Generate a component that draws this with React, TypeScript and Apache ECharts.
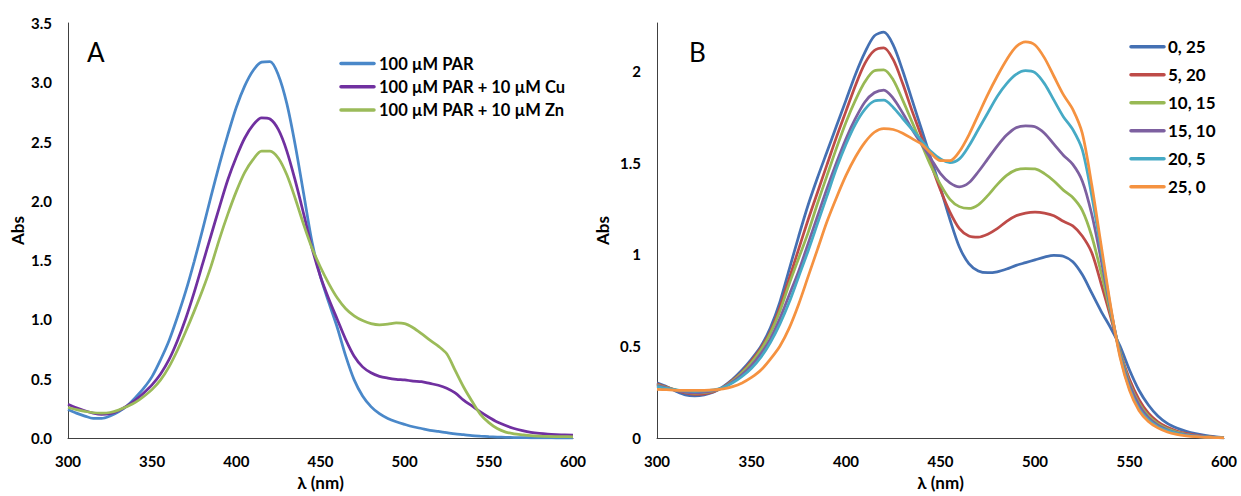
import { useEffect, useRef } from "react";
import * as echarts from "echarts";

const wavelengths = [300, 305, 310, 315, 320, 325, 330, 335, 340, 345, 350, 355, 360, 365, 370, 375, 380, 385, 390, 395, 400, 405, 410, 415, 420, 425, 430, 435, 440, 445, 450, 455, 460, 465, 470, 475, 480, 485, 490, 495, 500, 505, 510, 515, 520, 525, 530, 535, 540, 545, 550, 555, 560, 565, 570, 575, 580, 585, 590, 595, 600];

// Panel A
const namesA = ["100 µM PAR", "100 µM PAR + 10 µM Cu", "100 µM PAR + 10 µM Zn"];
const par = [0.24, 0.21, 0.185, 0.165, 0.165, 0.185, 0.22, 0.27, 0.34, 0.42, 0.52, 0.66, 0.82, 1.02, 1.24, 1.49, 1.76, 2.04, 2.31, 2.56, 2.79, 2.97, 3.1, 3.17, 3.175, 3.06, 2.82, 2.47, 2.06, 1.65, 1.36, 1.14, 0.93, 0.69, 0.49, 0.355, 0.265, 0.205, 0.165, 0.137, 0.115, 0.095, 0.08, 0.065, 0.055, 0.045, 0.035, 0.028, 0.02, 0.015, 0.011, 0.008, 0.006, 0.004, 0.003, 0.002, 0.001, 0.001, 0, 0, 0];
const parCu = [0.285, 0.255, 0.23, 0.21, 0.2, 0.205, 0.23, 0.27, 0.32, 0.38, 0.45, 0.54, 0.66, 0.82, 1.01, 1.23, 1.47, 1.71, 1.95, 2.18, 2.37, 2.53, 2.64, 2.7, 2.69, 2.6, 2.42, 2.17, 1.89, 1.6, 1.36, 1.17, 1.0, 0.83, 0.69, 0.6, 0.55, 0.52, 0.505, 0.495, 0.49, 0.48, 0.475, 0.46, 0.445, 0.42, 0.38, 0.32, 0.27, 0.22, 0.175, 0.135, 0.105, 0.08, 0.062, 0.048, 0.039, 0.033, 0.029, 0.026, 0.025];
const parZn = [0.257, 0.24, 0.225, 0.213, 0.21, 0.215, 0.235, 0.265, 0.3, 0.35, 0.41, 0.49, 0.6, 0.74, 0.9, 1.07, 1.25, 1.45, 1.68, 1.89, 2.08, 2.24, 2.35, 2.42, 2.42, 2.36, 2.22, 2.02, 1.8, 1.6, 1.44, 1.3, 1.18, 1.09, 1.03, 0.99, 0.965, 0.955, 0.96, 0.97, 0.965, 0.93, 0.88, 0.825, 0.775, 0.71, 0.57, 0.43, 0.31, 0.2, 0.13, 0.08, 0.05, 0.035, 0.027, 0.02, 0.016, 0.013, 0.012, 0.011, 0.01];
const colorsA = ["#4A88C9", "#7030A0", "#9BBB59"];

// Panel B
const namesB = ["0, 25", "5, 20", "10, 15", "15, 10", "20, 5", "25, 0"];
const b0_25 = [0.3, 0.28, 0.255, 0.235, 0.23, 0.235, 0.25, 0.28, 0.32, 0.37, 0.43, 0.5, 0.6, 0.74, 0.92, 1.1, 1.27, 1.42, 1.56, 1.7, 1.84, 1.98, 2.1, 2.19, 2.21, 2.14, 2.0, 1.84, 1.68, 1.52, 1.36, 1.19, 1.04, 0.95, 0.91, 0.9, 0.905, 0.92, 0.94, 0.955, 0.97, 0.985, 0.995, 0.99, 0.96, 0.89, 0.79, 0.69, 0.6, 0.5, 0.37, 0.26, 0.18, 0.12, 0.08, 0.055, 0.037, 0.024, 0.015, 0.008, 0.003];
const b5_20 = [0.295, 0.277, 0.26, 0.245, 0.238, 0.24, 0.252, 0.277, 0.315, 0.36, 0.42, 0.49, 0.58, 0.71, 0.87, 1.03, 1.19, 1.34, 1.49, 1.64, 1.78, 1.92, 2.04, 2.11, 2.125, 2.06, 1.93, 1.78, 1.64, 1.49, 1.35, 1.23, 1.14, 1.1, 1.094, 1.11, 1.14, 1.18, 1.21, 1.225, 1.23, 1.225, 1.21, 1.18, 1.155, 1.1, 1.01, 0.84, 0.66, 0.47, 0.32, 0.21, 0.135, 0.088, 0.058, 0.038, 0.025, 0.016, 0.009, 0.005, 0.002];
const b10_15 = [0.29, 0.275, 0.262, 0.25, 0.245, 0.247, 0.256, 0.275, 0.31, 0.355, 0.41, 0.48, 0.57, 0.69, 0.84, 0.98, 1.12, 1.28, 1.43, 1.58, 1.72, 1.84, 1.94, 2.0, 2.005, 1.95, 1.84, 1.72, 1.6, 1.48, 1.38, 1.3, 1.26, 1.25, 1.27, 1.32, 1.38, 1.43, 1.46, 1.467, 1.465, 1.44, 1.4, 1.35, 1.31, 1.24, 1.1, 0.9, 0.68, 0.47, 0.3, 0.19, 0.12, 0.077, 0.05, 0.032, 0.02, 0.012, 0.007, 0.004, 0.002];
const b15_10 = [0.285, 0.273, 0.26, 0.25, 0.247, 0.25, 0.258, 0.275, 0.305, 0.345, 0.395, 0.46, 0.54, 0.65, 0.78, 0.91, 1.06, 1.21, 1.36, 1.5, 1.63, 1.74, 1.83, 1.88, 1.895, 1.85, 1.77, 1.68, 1.6, 1.52, 1.44, 1.39, 1.368, 1.39, 1.45, 1.52, 1.59, 1.65, 1.69, 1.7, 1.695, 1.66, 1.6, 1.54, 1.49, 1.4, 1.22, 0.97, 0.7, 0.46, 0.29, 0.18, 0.11, 0.07, 0.045, 0.028, 0.018, 0.011, 0.006, 0.003, 0.001];
const b20_5 = [0.28, 0.27, 0.262, 0.256, 0.254, 0.256, 0.262, 0.275, 0.3, 0.335, 0.38, 0.44, 0.52, 0.62, 0.74, 0.88, 1.02, 1.17, 1.32, 1.47, 1.6, 1.71, 1.79, 1.835, 1.84, 1.8, 1.74, 1.68, 1.62, 1.56, 1.52, 1.5, 1.52, 1.59, 1.68, 1.77, 1.86, 1.93, 1.98, 2.0, 1.99, 1.93, 1.84, 1.75, 1.68, 1.57, 1.32, 1.02, 0.71, 0.45, 0.27, 0.16, 0.1, 0.062, 0.04, 0.025, 0.015, 0.009, 0.005, 0.003, 0.001];
const b25_0 = [0.265, 0.263, 0.26, 0.26, 0.26, 0.26, 0.262, 0.268, 0.28, 0.3, 0.33, 0.37, 0.43, 0.5, 0.6, 0.73, 0.88, 1.03, 1.18, 1.31, 1.43, 1.53, 1.61, 1.665, 1.685, 1.68, 1.66, 1.63, 1.6, 1.55, 1.51, 1.51, 1.56, 1.65, 1.76, 1.87, 1.97, 2.06, 2.13, 2.157, 2.14, 2.07, 1.97, 1.87, 1.79, 1.66, 1.38, 1.05, 0.72, 0.44, 0.26, 0.15, 0.09, 0.055, 0.033, 0.02, 0.012, 0.007, 0.004, 0.002, 0.001];
const colorsB = ["#4470B3", "#BE4B48", "#98B954", "#7D60A0", "#46AAC5", "#F59240"];

const FONT = "Lato";

function pairs(ys: number[]) {
  return wavelengths.map((w, i) => [w, ys[i]]);
}

function xAxisCfg(grid: number) {
  return {
    gridIndex: grid,
    type: "value",
    min: 300,
    max: 600,
    interval: 50,
    name: "λ (nm)",
    nameLocation: "middle",
    nameGap: 36,
    nameTextStyle: { fontFamily: FONT, fontSize: 17, fontWeight: "bold", color: "#000" },
    axisLine: { show: true, onZero: false, lineStyle: { color: "#404040", width: 1 } },
    axisTick: { show: false },
    splitLine: { show: false },
    axisLabel: { margin: 15, fontFamily: FONT, fontSize: 15, fontWeight: "bold", color: "#000" },
  };
}

function legendGraphics(names: string[], colors: string[], x0: number, x1: number, tx: number, y0: number, dy: number, fs: number) {
  const els: any[] = [];
  names.forEach((n, i) => {
    const y = y0 + dy * i;
    els.push({
      type: "line",
      shape: { x1: x0, y1: y, x2: x1, y2: y },
      style: { stroke: colors[i], lineWidth: 3.5, lineCap: "round" },
    });
    els.push({
      type: "text",
      x: tx,
      y: y,
      style: { text: n, fontFamily: FONT, fontSize: fs, fontWeight: "bold", fill: "#000", verticalAlign: "middle", align: "left" },
    });
  });
  return els;
}

export default function App() {
  const ref = useRef<HTMLDivElement>(null);
  useEffect(() => {
    document.body.style.margin = "0";
    if (!ref.current) return;
    const chart = echarts.init(ref.current, undefined, { renderer: "svg" });
    const seriesA = [par, parCu, parZn].map((d, i) => ({
      name: namesA[i],
      type: "line",
      xAxisIndex: 0,
      yAxisIndex: 0,
      data: pairs(d),
      symbol: "none",
      showSymbol: false,
      smooth: 0.3,
      color: colorsA[i],
      lineStyle: { width: 2.75, color: colorsA[i] },
    }));
    const seriesB = [b0_25, b5_20, b10_15, b15_10, b20_5, b25_0].map((d, i) => ({
      name: namesB[i],
      type: "line",
      xAxisIndex: 1,
      yAxisIndex: 1,
      data: pairs(d),
      symbol: "none",
      showSymbol: false,
      smooth: 0.3,
      color: colorsB[i],
      lineStyle: { width: 2.75, color: colorsB[i] },
    }));
    chart.setOption({
      animation: false,
      textStyle: { fontFamily: FONT },
      grid: [
        { left: 68, top: 23, width: 505, height: 418 },
        { left: 657, top: 23, width: 567, height: 418 },
      ],
      xAxis: [xAxisCfg(0), xAxisCfg(1)],
      yAxis: [
        {
          gridIndex: 0,
          type: "value",
          min: 0,
          max: 3.5,
          interval: 0.5,
          name: "Abs",
          nameLocation: "middle",
          nameGap: 42,
          nameTextStyle: { fontFamily: FONT, fontSize: 17, fontWeight: "bold", color: "#000" },
          axisLine: { show: true, lineStyle: { color: "#404040", width: 1 } },
          axisTick: { show: false },
          splitLine: { show: false },
          axisLabel: {
            margin: 16,
            fontFamily: FONT,
            fontSize: 15,
            fontWeight: "bold",
            color: "#000",
            formatter: (v: number) => v.toFixed(1),
          },
        },
        {
          gridIndex: 1,
          type: "value",
          min: 0,
          max: 2.26,
          interval: 0.5,
          name: "Abs",
          nameLocation: "middle",
          nameGap: 46,
          nameTextStyle: { fontFamily: FONT, fontSize: 17, fontWeight: "bold", color: "#000" },
          axisLine: { show: true, lineStyle: { color: "#404040", width: 1 } },
          axisTick: { show: false },
          splitLine: { show: false },
          axisLabel: {
            margin: 16,
            fontFamily: FONT,
            fontSize: 15,
            fontWeight: "bold",
            color: "#000",
            formatter: (v: number) => (Math.abs(v * 2 - Math.round(v * 2)) < 1e-6 ? String(v) : ""),
          },
        },
      ],
      graphic: [
        {
          type: "text",
          x: 87,
          y: 52,
          style: { text: "A", fontFamily: FONT, fontSize: 26, fill: "#000", verticalAlign: "middle" },
        },
        {
          type: "text",
          x: 689,
          y: 52,
          style: { text: "B", fontFamily: FONT, fontSize: 26, fill: "#000", verticalAlign: "middle" },
        },
        ...legendGraphics(namesA, colorsA, 341, 374, 379, 63.5, 23.3, 16.5),
        ...legendGraphics(namesB, colorsB, 1131, 1164, 1168, 46.7, 28, 17),
      ],
      series: [...seriesA, ...seriesB],
    });
    return () => chart.dispose();
  }, []);
  return <div ref={ref} style={{ width: 1241, height: 496 }} />;
}
